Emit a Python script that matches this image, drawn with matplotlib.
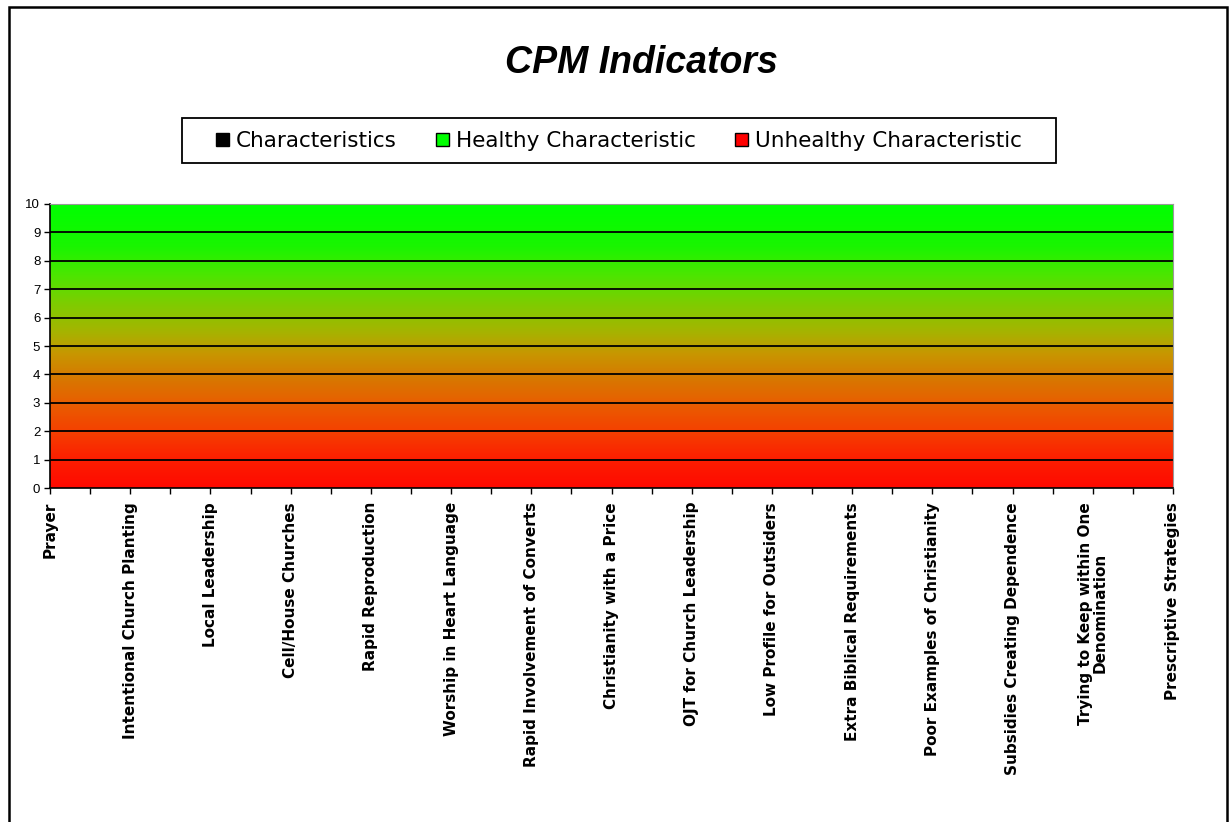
import matplotlib
matplotlib.use("Agg")
import matplotlib.pyplot as plt
import numpy as np
from matplotlib.colors import LinearSegmentedColormap
from matplotlib.patches import Patch, Rectangle

title = "CPM Indicators"
categories = [
    "Prayer",
    "Intentional Church Planting",
    "Local Leadership",
    "Cell/House Churches",
    "Rapid Reproduction",
    "Worship in Heart Language",
    "Rapid Involvement of Converts",
    "Christianity with a Price",
    "OJT for Church Leadership",
    "Low Profile for Outsiders",
    "Extra Biblical Requirements",
    "Poor Examples of Christianity",
    "Subsidies Creating Dependence",
    "Trying to Keep within One\nDenomination",
    "Prescriptive Strategies",
]
# Characteristics series has no plotted values in the reference
characteristics = [np.nan] * len(categories)
series_names = ["Characteristics", "Healthy Characteristic", "Unhealthy Characteristic"]
series_colors = ["#000000", "#00ff00", "#ff0000"]
y_ticks = list(range(0, 11))

W, H = 1229, 822
fig = plt.figure(figsize=(W / 100, H / 100), dpi=100)
fig.patch.set_facecolor("white")

# outer chart-area border
fig.patches.append(Rectangle((8.5 / W, -0.05), (1227 - 8.5) / W, 1.05 - 7 / H,
                             transform=fig.transFigure, fill=False,
                             edgecolor="black", linewidth=1.8, zorder=0))

ax = fig.add_axes([50 / W, 1 - 488 / H, (1173 - 50) / W, (488 - 204) / H])

# gradient background (red -> green)
anchors = [
    (0.00, (255, 10, 0)),
    (0.10, (252, 30, 0)),
    (0.20, (245, 65, 0)),
    (0.30, (232, 95, 0)),
    (0.40, (212, 125, 0)),
    (0.47, (200, 150, 0)),
    (0.55, (165, 180, 0)),
    (0.65, (125, 205, 0)),
    (0.75, (75, 230, 0)),
    (0.85, (25, 245, 0)),
    (1.00, (0, 255, 0)),
]
cmap = LinearSegmentedColormap.from_list(
    "rg", [(p, tuple(c / 255 for c in col)) for p, col in anchors])
grad = np.linspace(0, 1, 512).reshape(-1, 1)
ax.imshow(grad, aspect="auto", cmap=cmap, origin="lower",
          extent=[0, len(categories) - 1, 0, 10], zorder=0, interpolation="bilinear")

x = np.arange(len(categories))
ax.plot(x, characteristics, color=series_colors[0], zorder=3)

ax.set_xlim(0, len(categories) - 1)
ax.set_ylim(0, 10)
ax.set_yticks(y_ticks)
ax.set_yticklabels([str(v) for v in y_ticks], fontsize=9.5, family="Liberation Sans")
for v in y_ticks[1:-1]:
    ax.axhline(v, color="black", linewidth=1.3, zorder=2)

ax.set_xticks(x)
ax.set_xticks(x[:-1] + 0.5, minor=True)
ax.set_xticklabels(categories, rotation=90, fontsize=11, fontweight="bold",
                   family="DejaVu Sans", ha="center", va="top",
                   multialignment="center", linespacing=1.0)
ax.tick_params(axis="both", which="both", direction="out", length=4,
               width=1, color="black")
ax.tick_params(axis="x", which="major", pad=6)
ax.tick_params(axis="y", pad=3)

ax.spines["left"].set_color("black")
ax.spines["bottom"].set_color("black")
ax.spines["left"].set_linewidth(1.2)
ax.spines["bottom"].set_linewidth(1.2)
ax.spines["top"].set_color("#999999")
ax.spines["right"].set_color("#999999")

fig.text(641 / W, 1 - 63 / H, title, ha="center", va="center", fontsize=27,
         fontweight="bold", fontstyle="italic", family="Liberation Sans")

# legend frame drawn separately to match the wide padding
fig.patches.append(Rectangle((182 / W, 1 - 163 / H), (1056 - 182) / W, 45 / H,
                             transform=fig.transFigure, fill=False,
                             edgecolor="black", linewidth=1.3, zorder=5))
handles = [Patch(facecolor=c, edgecolor="black", linewidth=1) for c in series_colors]
leg = fig.legend(handles, series_names, loc="center", bbox_to_anchor=(619 / W, 1 - 141 / H),
                 ncol=3, frameon=False,
                 prop={"family": "DejaVu Sans", "size": 15.5},
                 handlelength=0.6, handleheight=0.6, handletextpad=0.3,
                 columnspacing=1.85, borderpad=0.3)

fig.savefig("out.png", dpi=100)
